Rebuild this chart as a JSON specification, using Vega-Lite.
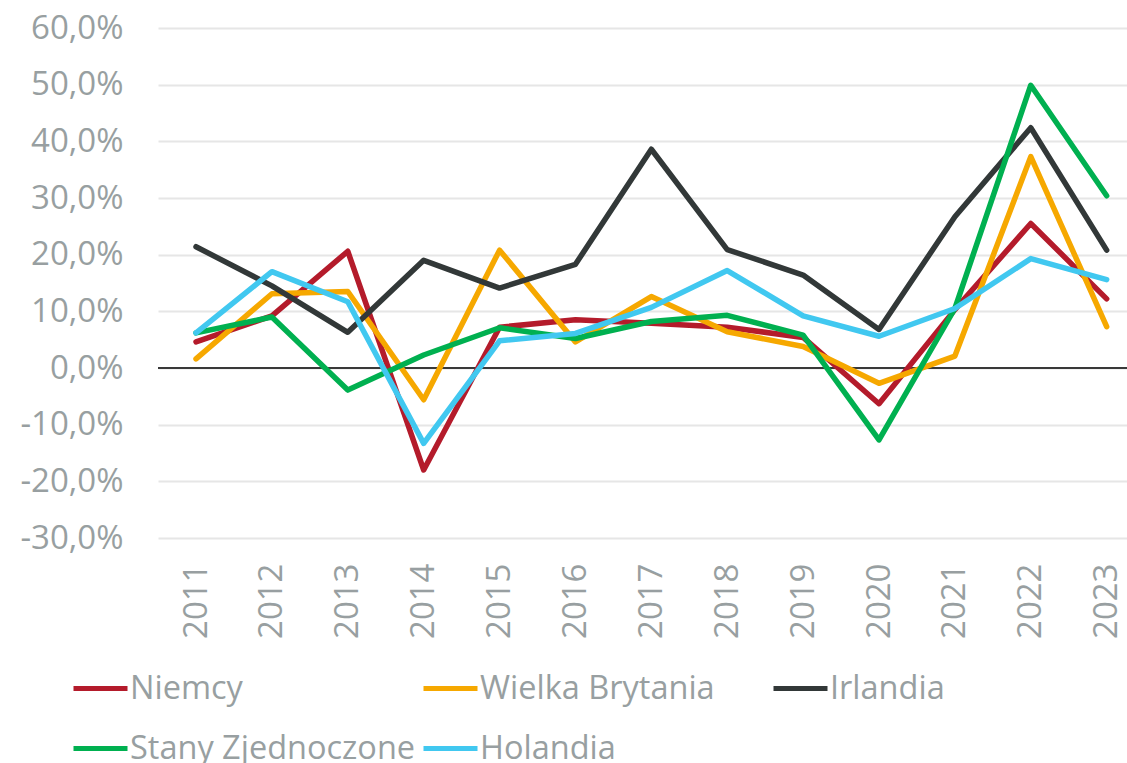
{
  "$schema": "https://vega.github.io/schema/vega-lite/v6.json",
  "width": 969,
  "height": 510,
  "autosize": {"type": "none"},
  "padding": {"left": 158, "top": 28, "right": 0, "bottom": 225},
  "background": "white",
  "config": {"view": {"stroke": null}, "font": "Open Sans"},
  "data": {"values": [
    {"rok": 2011, "kraj": "Niemcy", "wartosc": 0.046},
    {"rok": 2012, "kraj": "Niemcy", "wartosc": 0.092},
    {"rok": 2013, "kraj": "Niemcy", "wartosc": 0.206},
    {"rok": 2014, "kraj": "Niemcy", "wartosc": -0.180},
    {"rok": 2015, "kraj": "Niemcy", "wartosc": 0.072},
    {"rok": 2016, "kraj": "Niemcy", "wartosc": 0.085},
    {"rok": 2017, "kraj": "Niemcy", "wartosc": 0.079},
    {"rok": 2018, "kraj": "Niemcy", "wartosc": 0.072},
    {"rok": 2019, "kraj": "Niemcy", "wartosc": 0.054},
    {"rok": 2020, "kraj": "Niemcy", "wartosc": -0.063},
    {"rok": 2021, "kraj": "Niemcy", "wartosc": 0.103},
    {"rok": 2022, "kraj": "Niemcy", "wartosc": 0.255},
    {"rok": 2023, "kraj": "Niemcy", "wartosc": 0.122},
    {"rok": 2011, "kraj": "Wielka Brytania", "wartosc": 0.016},
    {"rok": 2012, "kraj": "Wielka Brytania", "wartosc": 0.131},
    {"rok": 2013, "kraj": "Wielka Brytania", "wartosc": 0.135},
    {"rok": 2014, "kraj": "Wielka Brytania", "wartosc": -0.056},
    {"rok": 2015, "kraj": "Wielka Brytania", "wartosc": 0.208},
    {"rok": 2016, "kraj": "Wielka Brytania", "wartosc": 0.046},
    {"rok": 2017, "kraj": "Wielka Brytania", "wartosc": 0.126},
    {"rok": 2018, "kraj": "Wielka Brytania", "wartosc": 0.064},
    {"rok": 2019, "kraj": "Wielka Brytania", "wartosc": 0.038},
    {"rok": 2020, "kraj": "Wielka Brytania", "wartosc": -0.027},
    {"rok": 2021, "kraj": "Wielka Brytania", "wartosc": 0.021},
    {"rok": 2022, "kraj": "Wielka Brytania", "wartosc": 0.373},
    {"rok": 2023, "kraj": "Wielka Brytania", "wartosc": 0.073},
    {"rok": 2011, "kraj": "Irlandia", "wartosc": 0.214},
    {"rok": 2012, "kraj": "Irlandia", "wartosc": 0.145},
    {"rok": 2013, "kraj": "Irlandia", "wartosc": 0.063},
    {"rok": 2014, "kraj": "Irlandia", "wartosc": 0.190},
    {"rok": 2015, "kraj": "Irlandia", "wartosc": 0.141},
    {"rok": 2016, "kraj": "Irlandia", "wartosc": 0.183},
    {"rok": 2017, "kraj": "Irlandia", "wartosc": 0.386},
    {"rok": 2018, "kraj": "Irlandia", "wartosc": 0.209},
    {"rok": 2019, "kraj": "Irlandia", "wartosc": 0.164},
    {"rok": 2020, "kraj": "Irlandia", "wartosc": 0.068},
    {"rok": 2021, "kraj": "Irlandia", "wartosc": 0.267},
    {"rok": 2022, "kraj": "Irlandia", "wartosc": 0.424},
    {"rok": 2023, "kraj": "Irlandia", "wartosc": 0.208},
    {"rok": 2011, "kraj": "Stany Zjednoczone", "wartosc": 0.062},
    {"rok": 2012, "kraj": "Stany Zjednoczone", "wartosc": 0.090},
    {"rok": 2013, "kraj": "Stany Zjednoczone", "wartosc": -0.039},
    {"rok": 2014, "kraj": "Stany Zjednoczone", "wartosc": 0.023},
    {"rok": 2015, "kraj": "Stany Zjednoczone", "wartosc": 0.071},
    {"rok": 2016, "kraj": "Stany Zjednoczone", "wartosc": 0.052},
    {"rok": 2017, "kraj": "Stany Zjednoczone", "wartosc": 0.082},
    {"rok": 2018, "kraj": "Stany Zjednoczone", "wartosc": 0.093},
    {"rok": 2019, "kraj": "Stany Zjednoczone", "wartosc": 0.058},
    {"rok": 2020, "kraj": "Stany Zjednoczone", "wartosc": -0.127},
    {"rok": 2021, "kraj": "Stany Zjednoczone", "wartosc": 0.105},
    {"rok": 2022, "kraj": "Stany Zjednoczone", "wartosc": 0.499},
    {"rok": 2023, "kraj": "Stany Zjednoczone", "wartosc": 0.304},
    {"rok": 2011, "kraj": "Holandia", "wartosc": 0.062},
    {"rok": 2012, "kraj": "Holandia", "wartosc": 0.170},
    {"rok": 2013, "kraj": "Holandia", "wartosc": 0.117},
    {"rok": 2014, "kraj": "Holandia", "wartosc": -0.133},
    {"rok": 2015, "kraj": "Holandia", "wartosc": 0.048},
    {"rok": 2016, "kraj": "Holandia", "wartosc": 0.061},
    {"rok": 2017, "kraj": "Holandia", "wartosc": 0.107},
    {"rok": 2018, "kraj": "Holandia", "wartosc": 0.172},
    {"rok": 2019, "kraj": "Holandia", "wartosc": 0.092},
    {"rok": 2020, "kraj": "Holandia", "wartosc": 0.056},
    {"rok": 2021, "kraj": "Holandia", "wartosc": 0.105},
    {"rok": 2022, "kraj": "Holandia", "wartosc": 0.193},
    {"rok": 2023, "kraj": "Holandia", "wartosc": 0.156}
  ]},
  "layer": [
    {
      "mark": {"type": "rule", "color": "#3a3a3a", "strokeWidth": 1.5},
      "encoding": {"y": {"datum": 0, "type": "quantitative"}}
    },
    {
      "mark": {"type": "line", "strokeWidth": 5.5, "strokeCap": "round", "strokeJoin": "round"},
      "encoding": {
        "x": {
          "field": "rok", "type": "quantitative",
          "scale": {"domain": [2010.499, 2023.268], "nice": false, "zero": false},
          "axis": {"title": null, "values": [2011, 2012, 2013, 2014, 2015, 2016, 2017, 2018, 2019, 2020, 2021, 2022, 2023], "format": "d", "labelAngle": -90, "labelFontSize": 33, "labelColor": "#989fa1", "domain": false, "ticks": false, "grid": false, "labelPadding": 25, "labelFlush": false, "labelOverlap": false}
        },
        "y": {
          "field": "wartosc", "type": "quantitative",
          "scale": {"domain": [-0.3, 0.6], "nice": false, "zero": false},
          "axis": {
            "title": null,
            "values": [-0.3, -0.2, -0.1, 0, 0.1, 0.2, 0.3, 0.4, 0.5, 0.6],
            "labelExpr": "replace(replace(format(datum.value, '.1%'), '.', ','), '\u2212', '-')",
            "labelFontSize": 33, "labelColor": "#989fa1", "domain": false, "ticks": false,
            "grid": true, "gridColor": "#e6e6e6", "gridWidth": 2, "labelPadding": 35, "labelFlush": false
          }
        },
        "color": {
          "field": "kraj", "type": "nominal",
          "sort": ["Niemcy", "Wielka Brytania", "Irlandia", "Stany Zjednoczone", "Holandia"],
          "scale": {
            "domain": ["Niemcy", "Wielka Brytania", "Irlandia", "Stany Zjednoczone", "Holandia"],
            "range": ["#b41b2b", "#f6a800", "#323838", "#00b050", "#41c8f0"]
          },
          "legend": {
            "title": null, "orient": "none", "legendX": -87, "legendY": 631,
            "direction": "horizontal", "columns": 3, "gridAlign": "all",
            "symbolType": "stroke", "symbolSize": 2916, "symbolStrokeWidth": 5,
            "labelFontSize": 32.5, "labelColor": "#989fa1", "labelOffset": 0,
            "columnPadding": -3, "rowPadding": 14, "labelLimit": 0
          }
        }
      }
    }
  ]
}
